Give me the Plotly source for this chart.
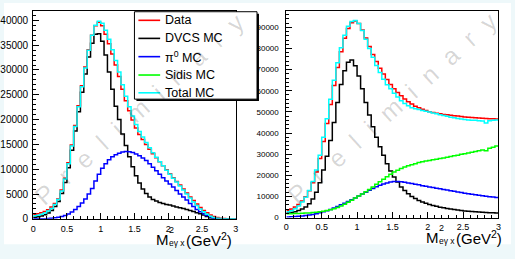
import plotly.graph_objects as go

# ---------------- data (histogram bin contents, bin width 0.05 GeV^2, 0..3) ----------------
BIN_WIDTH = 0.05

left_data = [900, 1000, 1200, 1450, 1850, 2400, 3100, 4000, 5800, 8200,
             11300, 14900, 18800, 22800, 26800, 30600, 34100, 37000, 38900, 39600,
             38900, 37200, 35300, 33200, 31000, 28700, 26100, 23800, 21800, 19900,
             18300, 17000, 16000, 15000, 14000, 13100, 12300, 11500, 10700, 9900,
             9100, 8300, 7500, 6800, 6000, 5200, 4400, 3700, 3000, 2300,
             1700, 1200, 750, 450, 250, 120, 50, 20, 0, 0]
left_total = [600, 700, 900, 1150, 1550, 2100, 2900, 3900, 5600, 8000,
              11100, 14700, 18600, 22600, 26600, 30400, 34000, 37000, 39000, 39800,
              39400, 38000, 36200, 34100, 31900, 29600, 27000, 24700, 22600, 20700,
              19000, 17600, 16500, 15400, 14300, 13300, 12400, 11500, 10700, 9800,
              9000, 8200, 7400, 6600, 5800, 5000, 4200, 3400, 2700, 2000,
              1400, 900, 500, 250, 100, 40, 10, 0, 0, 0]
left_dvcs = [300, 400, 550, 800, 1150, 1700, 2500, 3500, 5100, 7300,
             10300, 13800, 17700, 21600, 25500, 29200, 32600, 35400, 37200, 37300,
             35800, 33000, 29600, 26100, 22700, 20000, 17100, 14800, 12500, 10500,
             8700, 7200, 6000, 5100, 4400, 3900, 3600, 3300, 3100, 2900,
             2800, 2600, 2400, 2250, 2100, 1900, 1700, 1450, 1200, 1000,
             750, 450, 150, 30, 0, 0, 0, 0, 0, 0]
left_pi0 = [0, 0, 0, 20, 50, 100, 200, 300, 450, 650,
            950, 1350, 1900, 2500, 3200, 4000, 5000, 6100, 7600, 9000,
            10200, 11100, 11900, 12500, 12900, 13200, 13450, 13550, 13500, 13350,
            13050, 12700, 12250, 11750, 11100, 10400, 9700, 9000, 8300, 7600,
            7000, 6400, 5700, 5000, 4400, 3800, 3100, 2500, 1900, 1400,
            1000, 650, 350, 150, 50, 0, 0, 0, 0, 0]

right_data = [3500, 4000, 5000, 6200, 7800, 9800, 12700, 16500, 21500, 28000,
              36000, 44500, 53500, 62500, 71000, 78500, 84800, 89500, 92200, 93000,
              91800, 88800, 85000, 81000, 77200, 73800, 70700, 67900, 65300, 63000,
              61000, 59200, 57600, 56100, 54800, 53700, 52700, 51900, 51200, 50600,
              50100, 49700, 49400, 49100, 48800, 48600, 48400, 48200, 48000, 47800,
              47600, 47500, 47400, 47200, 47100, 47000, 46900, 46800, 46700, 46600]
right_total = [2700, 3200, 4200, 5500, 7300, 9600, 12800, 17000, 22500, 29500,
               38000, 46800, 56000, 65000, 73300, 80400, 86300, 90500, 92800, 93200,
               91800, 88500, 84400, 80000, 75800, 72000, 68600, 65500, 62800, 60900,
               58800, 57000, 55300, 54000, 52900, 52000, 51500, 51100, 50700, 50300,
               49900, 49500, 49100, 48700, 48300, 47900, 47500, 47200, 46900, 46600,
               46400, 46200, 46100, 46000, 45800, 45700, 44700, 45800, 46000, 46200]
right_dvcs = [2100, 2400, 2800, 3300, 4000, 5000, 6500, 8800, 12000, 16500,
              22500, 29000, 36500, 45000, 54500, 63000, 69500, 73500, 74500, 71800,
              67000, 61000, 54500, 48500, 43000, 38000, 33500, 29500, 25500, 22000,
              19200, 16800, 14500, 12800, 11300, 10000, 9000, 8100, 7400, 6800,
              6200, 5700, 5300, 4900, 4600, 4300, 4000, 3800, 3550, 3350,
              3150, 3000, 2850, 2700, 2600, 2500, 2400, 2300, 2250, 2200]
right_sidis = [1800, 1850, 1900, 1950, 2000, 2100, 2200, 2350, 2500, 2700,
               3000, 3300, 3700, 4200, 4800, 5500, 6300, 7200, 8200, 9200,
               10200, 11200, 12200, 13300, 14500, 15700, 16900, 18100, 19300, 20500,
               21500, 22400, 23200, 23900, 24500, 25000, 25500, 26000, 26400, 26700,
               27000, 27300, 27600, 27900, 28200, 28500, 28900, 29200, 29500, 29900,
               30200, 30600, 30900, 31200, 31600, 32000, 31600, 32800, 33300, 33800]
right_pi0 = [300, 350, 450, 600, 750, 950, 1200, 1500, 1850, 2250,
             2700, 3200, 3800, 4500, 5200, 6000, 6800, 7600, 8400, 9300,
             10200, 11100, 12000, 12900, 13800, 14600, 15300, 15900, 16400, 16800,
             17000, 17000, 16900, 16700, 16400, 16100, 15800, 15500, 15100, 14800,
             14500, 14200, 13900, 13600, 13300, 13000, 12700, 12400, 12100, 11800,
             11500, 11300, 11000, 10800, 10500, 10300, 10100, 9900, 9700, 9500]

legend_labels = ["Data", "DVCS MC", "π<sup>0</sup> MC", "Sidis MC", "Total MC"]
legend_colors = ["#ff0000", "#000000", "#0000ff", "#00ff00", "#00ffff"]

x_tick_vals = [0, 0.5, 1, 1.5, 2, 2.5, 3]

# ---------------- helpers ----------------
W, H = 515, 259
FONT = "Liberation Sans, Arial, Helvetica, sans-serif"


def px(x):
    return x / W


def py(y):
    return 1 - y / H


def step(vals):
    xs = [i * BIN_WIDTH for i in range(len(vals))] + [len(vals) * BIN_WIDTH]
    ys = list(vals) + [vals[-1]]
    return xs, ys


fig = go.Figure()

def add_hist(vals, color, xa, ya, name):
    xs, ys = step(vals)
    fig.add_trace(go.Scatter(x=xs, y=ys, mode="lines", line=dict(color=color, width=1.5, shape="hv"),
                             xaxis=xa, yaxis=ya, name=name, showlegend=False, hoverinfo="skip"))

# left panel
add_hist(left_dvcs, "#000000", "x", "y", "DVCS MC")
add_hist(left_pi0, "#0000ff", "x", "y", "pi0 MC")
add_hist(left_data, "#ff0000", "x", "y", "Data")
add_hist(left_total, "#00ffff", "x", "y", "Total MC")
# right panel
add_hist(right_dvcs, "#000000", "x2", "y2", "DVCS MC")
add_hist(right_pi0, "#0000ff", "x2", "y2", "pi0 MC")
add_hist(right_sidis, "#00ff00", "x2", "y2", "Sidis MC")
add_hist(right_data, "#ff0000", "x2", "y2", "Data")
add_hist(right_total, "#00ffff", "x2", "y2", "Total MC")

common_x = dict(range=[0, 3], tickmode="array", tickvals=x_tick_vals, ticks="inside", ticklen=6,
                tickcolor="black", showline=True, linecolor="black", linewidth=1, mirror=True,
                showgrid=False, zeroline=False, tickfont=dict(family=FONT, size=9, color="black"),
                minor=dict(ticks="inside", dtick=0.1, tick0=0, ticklen=3, tickcolor="black"),
                ticklabelstandoff=1)
common_y = dict(ticks="inside", ticklen=6, tickcolor="black", showline=True, linecolor="black",
                linewidth=1, mirror=True, showgrid=False, zeroline=False, tickformat="d",
                tickmode="linear", tick0=0)

fig.update_layout(
    width=W, height=H, margin=dict(l=0, r=0, t=0, b=0, pad=0), autosize=False,
    paper_bgcolor="#eef8fa", plot_bgcolor="white",
    xaxis=dict(domain=[px(30.5), px(235.5)], anchor="y", **common_x),
    yaxis=dict(domain=[py(224), py(11.7)], anchor="x", range=[0, 41800], dtick=5000,
               minor=dict(ticks="inside", dtick=1000, ticklen=3, tickcolor="black"),
               tickfont=dict(family=FONT, size=10, color="black"), ticklabelstandoff=2, **common_y),
    xaxis2=dict(domain=[px(286.7), px(501.3)], anchor="y2", **common_x),
    yaxis2=dict(domain=[py(222.7), py(11)], anchor="x2", range=[0, 97860], dtick=10000,
                minor=dict(ticks="inside", dtick=2000, ticklen=3, tickcolor="black"),
                tickfont=dict(family=FONT, size=8, color="black"), ticklabelstandoff=5, **common_y),
)

shapes = []
# white canvas inside thin light border
shapes.append(dict(type="rect", xref="paper", yref="paper", x0=px(1), x1=px(514), y0=py(250), y1=py(3),
                   fillcolor="white", line=dict(width=0), layer="below"))
# legend box with shadow
shapes.append(dict(type="rect", xref="paper", yref="paper", x0=px(135), x1=px(259), y0=py(103.5), y1=py(14),
                   fillcolor="black", line=dict(width=0), layer="above"))
shapes.append(dict(type="rect", xref="paper", yref="paper", x0=px(133), x1=px(257), y0=py(101.5), y1=py(12),
                   fillcolor="white", line=dict(color="black", width=1), layer="above"))
rows = [20.8, 39.3, 58.0, 76.8, 95.0]
annotations = []
for lab, col, ry in zip(legend_labels, legend_colors, rows):
    shapes.append(dict(type="line", xref="paper", yref="paper", x0=px(137), x1=px(159), y0=py(ry), y1=py(ry),
                       line=dict(color=col, width=1.6), layer="above"))
    annotations.append(dict(xref="paper", yref="paper", x=px(162), y=py(ry), xanchor="left", yanchor="middle",
                            text=lab, showarrow=False, font=dict(family=FONT, size=12.5, color="black")))

# axis titles (built from pieces so the super/subscript stack like in ROOT)
for dx, dy in [(0, 0), (273, -2)]:
    annotations.append(dict(xref="paper", yref="paper", x=px(153 + dx), y=py(245 + dy), xanchor="left",
                            yanchor="middle", text="M", showarrow=False,
                            font=dict(family=FONT, size=15, color="black")))
    annotations.append(dict(xref="paper", yref="paper", x=px(166 + dx), y=py(235 + dy), xanchor="left",
                            yanchor="middle", text="2", showarrow=False,
                            font=dict(family=FONT, size=9, color="black")))
    annotations.append(dict(xref="paper", yref="paper", x=px(166 + dx), y=py(249 + dy), xanchor="left",
                            yanchor="middle", text="eγ x", showarrow=False,
                            font=dict(family=FONT, size=8.5, color="black")))
    annotations.append(dict(xref="paper", yref="paper", x=px(234 + dx), y=py(245 + dy), xanchor="right",
                            yanchor="middle", text="(GeV<sup>2</sup>)", showarrow=False,
                            font=dict(family=FONT, size=15, color="black")))

# "Preliminary" watermarks
gap = "\u2002\u200a"
wm = gap.join(list("Preliminary"))
for cx, cy in [(138, 112), (394, 111)]:
    annotations.append(dict(xref="paper", yref="paper", x=px(cx), y=py(cy), xanchor="center", yanchor="middle",
                            text=wm, showarrow=False, textangle=-42,
                            font=dict(family=FONT, size=25, color="rgba(0,0,0,0.16)")))

fig.update_layout(shapes=shapes, annotations=annotations)
fig.write_html("out.html", config={"displayModeBar": False, "staticPlot": True},
               post_script="document.body.style.margin='0px';document.body.style.padding='0px';"
                           "document.documentElement.style.overflow='hidden';")
